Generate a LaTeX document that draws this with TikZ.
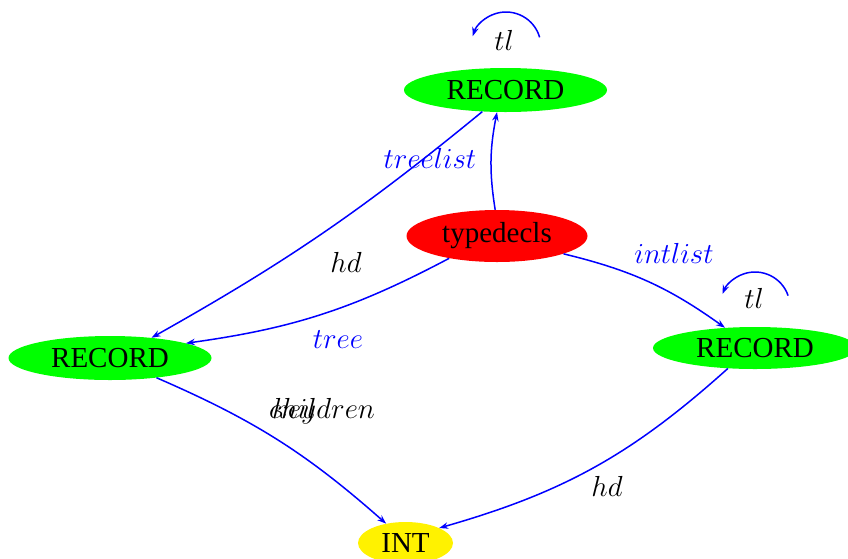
\RequirePackage{fix-cm}
\documentclass[tikz,border=0pt]{standalone}
\usepackage{fontspec}
\setmainfont{Liberation Serif}
\usetikzlibrary{shapes.geometric,arrows.meta}
\begin{document}
\begin{tikzpicture}[x=1pt,y=-1pt,
  bigfont/.style={font=\fontsize{29}{34}\selectfont},
  nd/.style={ellipse, inner sep=0pt, bigfont, text=black},
  lab/.style={bigfont, anchor=base, inner sep=0pt},
  conn/.style={draw=blue, line width=1.5pt, -{Stealth[length=9pt,width=6.5pt,inset=3pt]}}]
\useasboundingbox (0,0) rectangle (848,558);
\node[nd, fill=green, minimum width=203pt, minimum height=44pt] (r1) at (505.5,90) {RECORD};
\node[nd, fill=red, minimum width=181pt, minimum height=52pt] (td) at (497,236) {typedecls};
\node[nd, fill=green, minimum width=203pt, minimum height=44pt] (rl) at (110,358) {RECORD};
\node[nd, fill=green, minimum width=204pt, minimum height=42pt] (rr) at (755,348) {RECORD};
\node[nd, fill=yellow, minimum width=95pt, minimum height=42pt] (int) at (405.5,543) {INT};

\draw[conn] (td.94) to[bend left=10] (r1.249);
\draw[conn] (r1.223) to[bend left=5] (rl.26);
\draw[conn] (td.205) to[bend left=10] (rl.11);
\draw[conn] (td.345) to[bend left=11] (rr.146);
\draw[conn] (rl.337) to[bend left=9] (int.135);
\draw[conn] (rr.217) to[bend left=13] (int.24);

\coordinate (lc1) at ([shift={(0.5,-43)}]r1.center);
\coordinate (lc2) at ([shift={(0,-41)}]rr.center);
\draw[conn] ([shift={(16:35pt)}]lc1) arc[start angle=16, end angle=162, radius=35pt];
\draw[conn] ([shift={(19:35pt)}]lc2) arc[start angle=19, end angle=158, radius=35pt];

\node[lab] (l1) at (504,50) {$tl$};
\node[lab] (l2) at (754,308) {$tl$};
\node[lab, text=blue] (l3) at (430,168) {$treelist$};
\node[lab] (l4) at (346,272) {$hd$};
\node[lab, text=blue] (l5) at (338,348) {$tree$};
\node[lab, text=blue] (l6) at (674,263) {$intlist$};
\node[lab, anchor=base west] (l7) at (269,418) {$children$};
\node[lab, anchor=base west] (l8) at (272,418) {$key$};
\node[lab] (l9) at (607,496) {$hd$};
\end{tikzpicture}
\end{document}
